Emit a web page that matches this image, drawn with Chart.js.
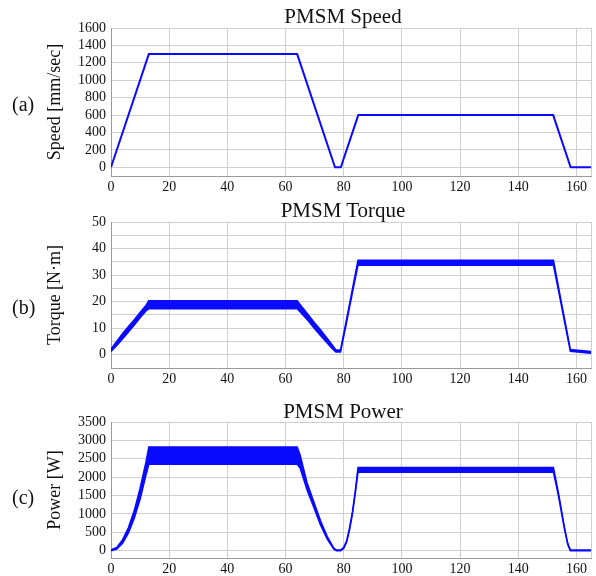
<!DOCTYPE html>
<html>
<head>
<meta charset="utf-8">
<script src="https://cdn.jsdelivr.net/npm/chart.js@4.4.1/dist/chart.umd.min.js"></script>
<style>
  body { margin: 0; background: #fff; }
  #wrap { position: relative; width: 596px; height: 576px; font-family: 'Liberation Serif', serif; color: #111; }
  .pane { position: absolute; left: 0; width: 596px; }
  .ttl { position: absolute; width: 200px; left: 243px; text-align: center; font-size: 21px; line-height: 21px; white-space: nowrap; }
  .tag { position: absolute; left: 12px; font-size: 20px; line-height: 20px; }
</style>
</head>
<body>
<div id="wrap">
  <div class="pane" style="top:0"><canvas id="speedChart" width="596" height="195"></canvas></div>
  <div class="pane" style="top:195px"><canvas id="torqueChart" width="596" height="195"></canvas></div>
  <div class="pane" style="top:390px"><canvas id="powerChart" width="596" height="186"></canvas></div>
  <div class="ttl" style="top:6px">PMSM Speed</div>
  <div class="ttl" style="top:200px">PMSM Torque</div>
  <div class="ttl" style="top:401px">PMSM Power</div>
  <div class="tag" style="top:94px">(a)</div>
  <div class="tag" style="top:297px">(b)</div>
  <div class="tag" style="top:487px">(c)</div>
</div>
<script>
// time axis [sec]
const xTicks = [0, 20, 40, 60, 80, 100, 120, 140, 160];
const xMax = 165;

// speed profile [mm/sec]
const speedT = [0, 13, 64, 77, 79, 85, 152, 158, 165];
const speedV = [0, 1300, 1300, 0, 0, 600, 600, 0, 0];
const speedTicks = [0, 200, 400, 600, 800, 1000, 1200, 1400, 1600];

// torque band [N·m] (lower / upper edge of the ripple)
const torqueT  = [0, 2, 4, 6, 8, 10, 12, 13, 64, 66, 68, 70, 72, 74, 76, 77.3, 78.9, 81, 83, 84.9, 152.1, 154, 156, 157.9, 165];
const torqueLo = [1.2, 3.5, 6.0, 8.6, 11.2, 13.9, 16.5, 17.3, 17.3, 15.0, 12.5, 9.8, 7.2, 4.8, 2.4, 1.0, 1.0, 12.3, 23.4, 33.7, 33.7, 23.2, 11.8, 1.3, 0.6];
const torqueHi = [2.2, 5.1, 8.0, 10.6, 13.2, 15.9, 18.6, 20.3, 20.3, 17.5, 14.8, 12.0, 9.4, 6.6, 3.8, 1.8, 1.8, 13.5, 24.8, 35.6, 35.6, 24.4, 13.0, 2.0, 1.2];
const torqueTicks = [0, 5, 10, 15, 20, 25, 30, 35, 40, 45, 50];

// power band [W]
const powerT  = [0, 2, 4, 6, 8, 10, 12, 13, 64, 65, 67.4, 69.7, 72, 74.3, 76.6, 77.5, 78.9, 80, 81, 82, 83, 84, 84.9, 152.1, 153, 154, 155, 156, 157, 157.9, 165];
const powerLo = [0, 40, 200, 480, 880, 1400, 2050, 2350, 2350, 2250, 1650, 1180, 700, 320, 40, 0, 0, 60, 230, 560, 1000, 1570, 2130, 2130, 1800, 1410, 970, 540, 170, 0, 0];
const powerHi = [20, 90, 300, 630, 1090, 1700, 2400, 2820, 2820, 2600, 1850, 1330, 820, 390, 70, 15, 15, 90, 270, 620, 1060, 1640, 2260, 2260, 1900, 1490, 1030, 580, 200, 15, 15];
const powerTicks = [0, 500, 1000, 1500, 2000, 2500, 3000, 3500];

const BLUE = '#0a0aff';
const serif = 'Liberation Serif';

function pts(t, v) {
    return t.map((x, i) => ({ x: x, y: v[i] }));
}

function makeChart(id, opts) {
    const ctx = document.getElementById(id).getContext('2d');
    return new Chart(ctx, {
        type: 'line',
        data: { datasets: opts.datasets },
        options: {
            responsive: false,
            animation: false,
            devicePixelRatio: 1,
            layout: { padding: { top: opts.top, right: 5, left: 0, bottom: 0 } },
            plugins: { legend: { display: false }, tooltip: { enabled: false } },
            elements: { point: { radius: 0 }, line: { tension: 0 } },
            scales: {
                x: {
                    type: 'linear',
                    min: 0,
                    max: xMax,
                    afterBuildTicks: s => { s.ticks = xTicks.concat([xMax]).map(v => ({ value: v })); },
                    afterFit: s => { s.height = opts.xh; },
                    grid: { color: '#cfcfcf', drawTicks: false },
                    border: { color: '#9a9a9a' },
                    ticks: {
                        padding: 3,
                        color: '#111',
                        font: { family: serif, size: 14 },
                        maxRotation: 0,
                        autoSkip: false,
                        callback: v => (v === xMax ? '' : v)
                    }
                },
                y: {
                    type: 'linear',
                    min: opts.ymin,
                    max: opts.ticks[opts.ticks.length - 1],
                    afterBuildTicks: s => { s.ticks = opts.ticks.map(v => ({ value: v })); },
                    afterFit: s => { s.width = 111; },
                    grid: { color: '#cfcfcf', drawTicks: false },
                    border: { color: '#9a9a9a' },
                    title: {
                        display: true,
                        text: opts.label,
                        color: '#111',
                        font: { family: serif, size: 18 },
                        padding: { top: 44, bottom: 0 }
                    },
                    ticks: {
                        padding: 5,
                        color: '#111',
                        font: { family: serif, size: 14 },
                        autoSkip: false,
                        callback: opts.tickLabel || (v => v)
                    }
                }
            }
        }
    });
}

makeChart('speedChart', {
    top: 28, xh: 19, ymin: -100, ticks: speedTicks, label: 'Speed [mm/sec]',
    datasets: [{ data: pts(speedT, speedV), borderColor: BLUE, borderWidth: 2, fill: false }]
});

makeChart('torqueChart', {
    top: 27, xh: 22, ymin: -5, ticks: torqueTicks, label: 'Torque [N·m]',
    tickLabel: v => (v % 10 === 0 ? v : ''),
    datasets: [
        { data: pts(torqueT, torqueLo), borderColor: BLUE, borderWidth: 1.5, fill: false },
        { data: pts(torqueT, torqueHi), borderColor: BLUE, borderWidth: 1.5, backgroundColor: BLUE, fill: '-1' }
    ]
});

makeChart('powerChart', {
    top: 32, xh: 18, ymin: -200, ticks: powerTicks, label: 'Power [W]',
    datasets: [
        { data: pts(powerT, powerLo), borderColor: BLUE, borderWidth: 1.5, fill: false },
        { data: pts(powerT, powerHi), borderColor: BLUE, borderWidth: 1.5, backgroundColor: BLUE, fill: '-1' }
    ]
});
</script>
</body>
</html>
